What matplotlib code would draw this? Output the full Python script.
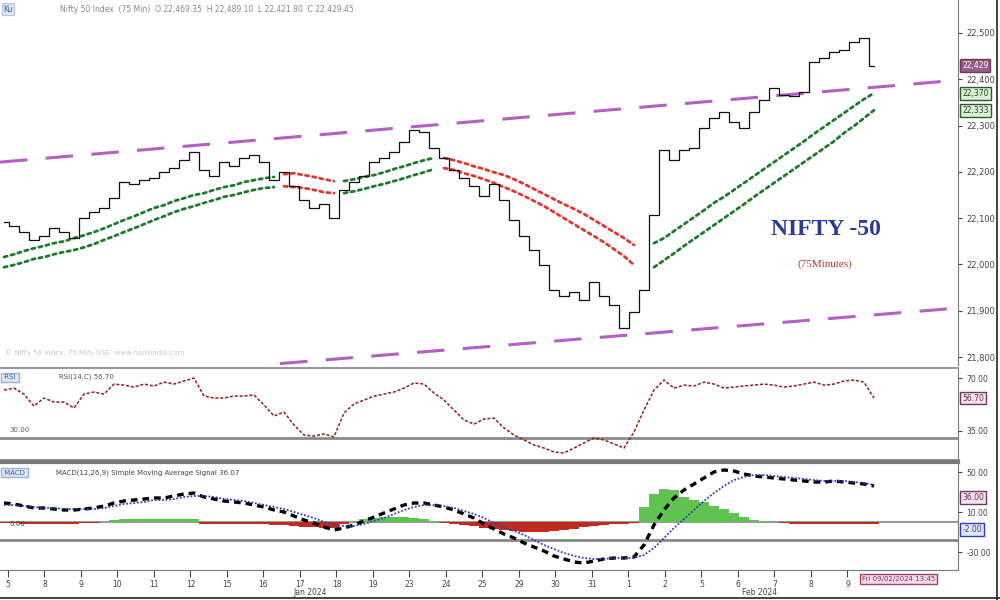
import numpy as np
import matplotlib.pyplot as plt
from matplotlib.lines import Line2D

# 75 minute bars, closing prices
close = [22092, 22083, 22070, 22053, 22061, 22079, 22070, 22057, 22100, 22113,
         22122, 22143, 22178, 22174, 22182, 22187, 22200, 22208, 22226, 22243,
         22204, 22191, 22221, 22213, 22230, 22236, 22221, 22182, 22200, 22169,
         22139, 22122, 22130, 22100, 22161, 22178, 22191, 22221, 22230, 22243,
         22264, 22290, 22286, 22251, 22230, 22204, 22187, 22169, 22148, 22174,
         22139, 22096, 22061, 22031, 21999, 21945, 21932, 21940, 21923, 21962,
         21932, 21912, 21863, 21897, 21945, 22107, 22247, 22226, 22247, 22251,
         22295, 22316, 22329, 22308, 22295, 22329, 22355, 22381, 22366, 22364,
         22372, 22437, 22446, 22459, 22463, 22480, 22489, 22429]

ema_fast = [22016, 22022, 22029, 22035, 22040, 22046, 22050, 22057, 22063, 22070,
            22078, 22087, 22096, 22104, 22113, 22122, 22128, 22137, 22143, 22150,
            22154, 22161, 22167, 22171, 22178, 22182, 22186, 22189, 22195, 22197,
            22193, 22189, 22184, 22180, 22180, 22184, 22189, 22193, 22199, 22206,
            22212, 22219, 22225, 22230, 22230, 22225, 22219, 22212, 22206, 22199,
            22193, 22184, 22174, 22163, 22152, 22141, 22130, 22120, 22109, 22096,
            22083, 22070, 22057, 22042, 22035, 22046, 22057, 22072, 22087, 22102,
            22117, 22133, 22146, 22161, 22176, 22191, 22206, 22221, 22236, 22251,
            22266, 22282, 22297, 22312, 22327, 22342, 22357, 22370]

ema_slow = [21994, 21999, 22005, 22012, 22016, 22022, 22027, 22031, 22037, 22044,
            22053, 22061, 22070, 22078, 22087, 22096, 22104, 22113, 22120, 22126,
            22133, 22139, 22146, 22150, 22156, 22161, 22165, 22167, 22169, 22167,
            22165, 22161, 22156, 22154, 22154, 22158, 22163, 22169, 22174, 22180,
            22186, 22193, 22199, 22206, 22208, 22204, 22197, 22191, 22184, 22176,
            22167, 22158, 22148, 22137, 22126, 22113, 22100, 22087, 22074, 22061,
            22048, 22033, 22018, 21999, 21992, 21994, 22009, 22024, 22040, 22055,
            22070, 22085, 22100, 22115, 22130, 22146, 22161, 22176, 22191, 22206,
            22221, 22236, 22251, 22266, 22284, 22299, 22316, 22333]

# (first bar, last bar, direction) of the moving average ribbon
trend_segments = [(0, 27, "up"), (28, 33, "down"), (34, 43, "up"),
                  (44, 63, "down"), (65, 87, "up")]

# channel lines (bar index, price)
trend_x = [-0.4, 95.4]
upper_trend = [22221, 22398]
lower_x = [27.6, 95.4]
lower_trend = [21786, 21906]

rsi = [62.0, 63.3, 59.3, 51.3, 56.7, 54.0, 54.0, 50.0, 59.3, 60.7,
       59.3, 66.0, 65.3, 64.0, 66.0, 64.7, 67.3, 66.0, 68.0, 70.0,
       58.0, 56.7, 56.7, 58.0, 58.0, 58.7, 52.0, 44.7, 47.3, 38.7,
       32.0, 31.3, 32.7, 30.7, 46.7, 52.7, 55.3, 58.0, 59.3, 60.7,
       63.3, 66.7, 66.0, 60.0, 55.3, 48.7, 42.0, 39.3, 42.7, 43.3,
       36.7, 32.0, 28.7, 25.3, 23.3, 20.7, 20.0, 23.3, 26.7, 30.0,
       28.7, 26.0, 23.3, 34.0, 48.7, 62.0, 68.7, 63.3, 65.3, 64.7,
       67.3, 66.0, 63.3, 64.0, 64.7, 65.3, 66.0, 65.3, 64.0, 64.7,
       66.0, 67.3, 65.3, 66.0, 68.0, 68.7, 67.3, 56.7]

macd = [19, 18, 16, 14, 14, 13, 12, 12, 13, 14,
        16, 19, 21, 22, 23, 24, 24, 26, 28, 29,
        25, 23, 21, 20, 19, 17, 15, 12, 10, 6,
        2, -1, -5, -8, -6, -3, 1, 5, 9, 13,
        17, 19, 19, 17, 15, 12, 8, 4, -2, -7,
        -12, -16, -21, -25, -29, -34, -37, -40, -41, -39,
        -37, -36, -36, -35, -23, -3, 12, 24, 32, 38,
        44, 50, 52, 51, 48, 46, 45, 44, 43, 42,
        41, 40, 40, 41, 40, 39, 38, 36]

signal = [17, 17, 16, 15, 14, 14, 13, 13, 13, 13,
          14, 16, 18, 19, 20, 22, 22, 23, 25, 26,
          26, 25, 23, 22, 21, 19, 17, 15, 13, 10,
          7, 4, 0, -3, -4, -4, -2, 1, 4, 8,
          12, 15, 17, 17, 16, 14, 11, 8, 4, -1,
          -5, -9, -13, -18, -23, -27, -31, -34, -36, -37,
          -37, -36, -36, -36, -33, -26, -16, -6, 3, 12,
          21, 29, 36, 42, 45, 47, 47, 46, 45, 44,
          43, 42, 41, 41, 41, 40, 39, 37]

hist = [-1, -1, -2, -2, -2, -2, -2, -2, -1, -1,
        0, 2, 3, 3, 3, 3, 3, 3, 3, 3,
        -2, -2, -2, -2, -2, -2, -2, -3, -3, -4,
        -5, -5, -6, -6, -2, 1, 3, 4, 5, 5,
        5, 4, 3, 1, -1, -2, -3, -4, -6, -7,
        -8, -9, -10, -10, -10, -9, -8, -7, -5, -4,
        -3, -2, -2, -1, 15, 28, 33, 32, 25, 22,
        20, 16, 13, 9, 5, 2, 1, 0, -1, -2,
        -2, -2, -2, -2, -2, -2, -2, -2]

day_labels = ["5", "8", "9", "10", "11", "12", "15", "16", "17", "18", "19", "23",
              "24", "25", "29", "30", "31", "1", "2", "5", "6", "7", "8", "9"]
month_labels = ["Jan 2024", "Feb 2024"]
month_pos = [30.6, 75.6]

price_ticks = [21800, 21900, 22000, 22100, 22200, 22300, 22400, 22500]

x = np.arange(len(close))
close = np.array(close, dtype=float)
ema_fast = np.array(ema_fast, dtype=float)
ema_slow = np.array(ema_slow, dtype=float)

GREEN = "#1d7a2c"
RED = "#e0362c"
PURPLE = "#b35fc4"
AXC = "#7a7a7a"
TXT = "#444444"

fig = plt.figure(figsize=(10, 6), dpi=100)
ax = fig.add_axes([0.0, 0.3917, 0.958, 0.6083])
ax_rsi = fig.add_axes([0.0, 0.2333, 0.958, 0.1533], sharex=ax)
ax_macd = fig.add_axes([0.0, 0.05, 0.958, 0.18], sharex=ax)

# ---- price panel
ax.plot(trend_x, upper_trend, color=PURPLE, lw=2.2, ls=(0, (9, 6)), zorder=1)
ax.plot(lower_x, lower_trend, color=PURPLE, lw=2.2, ls=(0, (9, 6)), zorder=1)

for start, end, kind in trend_segments:
    seg = slice(start, end + 1)
    col = GREEN if kind == "up" else RED
    for line in (ema_fast, ema_slow):
        ax.plot(x[seg], line[seg], color=col, lw=2.0, ls=(0, (1.2, 1.4)),
                dash_capstyle="round", zorder=2)

ax.step(x, close, where="mid", color="#111111", lw=0.9, zorder=3)

ax.set_xlim(-0.4, 95.4)
ax.set_ylim(21783, 22571)
ax.yaxis.tick_right()
ax.set_yticks(price_ticks)
ax.set_yticklabels([f"{v:,.0f}" for v in price_ticks])
ax.tick_params(axis="y", labelsize=6, colors=TXT, length=3, pad=3)
ax.tick_params(axis="x", bottom=False, labelbottom=False)
for side in ("left", "top", "bottom"):
    ax.spines[side].set_visible(False)
ax.spines["right"].set_color(AXC)

ax.text(0.862, 0.37, "NIFTY -50", transform=ax.transAxes, ha="center", va="center",
        fontsize=17, fontweight="bold", color="#2c3a9e", family="Liberation Serif")
ax.text(0.861, 0.277, "(75Minutes)", transform=ax.transAxes, ha="center", va="center",
        fontsize=8, color="#b03a2e", family="Liberation Serif")
ax.text(0.005, 0.035, "© Nifty 50 Index, 75 Min, NSE  www.hansindia.com", transform=ax.transAxes,
        fontsize=5, color="#c8c8c8", va="center")

ax.annotate(f"{close[-1]:,.0f}", xy=(1.0, close[-1]), xycoords=("axes fraction", "data"),
            xytext=(3, 0), textcoords="offset points", fontsize=5.5, color="white", va="center",
            bbox=dict(boxstyle="square,pad=0.25", fc="#9a5b85", ec="#6b3b5c"))
ax.annotate(f"{ema_fast[-1]:,.0f}", xy=(1.0, ema_fast[-1]), xycoords=("axes fraction", "data"),
            xytext=(3, 0), textcoords="offset points", fontsize=5.5, color="#224422", va="center",
            bbox=dict(boxstyle="square,pad=0.25", fc="#dcefd8", ec="#335533"))
ax.annotate(f"{ema_slow[-1]:,.0f}", xy=(1.0, ema_slow[-1]), xycoords=("axes fraction", "data"),
            xytext=(3, 0), textcoords="offset points", fontsize=5.5, color="#224422", va="center",
            bbox=dict(boxstyle="square,pad=0.25", fc="#dcefd8", ec="#335533"))

# ---- RSI panel
ax_rsi.axhline(30, color="#8a8a8a", lw=2, zorder=0)
ax_rsi.plot(x, rsi, color="#9b1c1c", lw=1.1, ls=(0, (2, 1.2)))
ax_rsi.set_ylim(15.3, 76.7)
ax_rsi.yaxis.tick_right()
ax_rsi.set_yticks([70, 35])
ax_rsi.set_yticklabels(["70.00", "35.00"])
ax_rsi.tick_params(axis="y", labelsize=5.5, colors=TXT, length=3, pad=3)
ax_rsi.tick_params(axis="x", bottom=False, labelbottom=False)
ax_rsi.spines["left"].set_visible(False)
ax_rsi.spines["top"].set_color("#999999")
ax_rsi.spines["top"].set_linewidth(1.5)
ax_rsi.spines["bottom"].set_color("#888888")
ax_rsi.spines["bottom"].set_linewidth(2)
ax_rsi.spines["right"].set_color(AXC)
ax_rsi.text(0.002, 0.9, " RSI ", transform=ax_rsi.transAxes, fontsize=5, color="#3a5fb0",
            va="center", bbox=dict(boxstyle="square,pad=0.2", fc="#dfe6f4", ec="#9fb0d8"))
ax_rsi.text(0.062, 0.9, "RSI(14,C) 56.70", transform=ax_rsi.transAxes, fontsize=5,
            color="#555555", va="center")
ax_rsi.text(0.01, 0.33, "30.00", transform=ax_rsi.transAxes, fontsize=5, color="#555555",
            va="center")
ax_rsi.annotate(f"{rsi[-1]:.2f}", xy=(1.0, rsi[-1]), xycoords=("axes fraction", "data"),
                xytext=(3, 0), textcoords="offset points", fontsize=5.5, color="#6b2b5c",
                va="center", bbox=dict(boxstyle="square,pad=0.25", fc="#f3e4ee", ec="#6b3b5c"))

# ---- MACD panel
hist_colors = ["#5ec44f" if h >= 0 else "#c22a1f" for h in hist]
ax_macd.bar(x, hist, width=1.0, color=hist_colors, zorder=1)
ax_macd.axhline(0, color="#9a9a9a", lw=1.5, zorder=0)
ax_macd.axhline(-18, color="#888888", lw=2, zorder=0)
ax_macd.plot(x, macd, color="black", lw=2.4, ls=(0, (2, 1.5)), zorder=3)
ax_macd.plot(x, signal, color="#2a3dbf", lw=1.3, ls=(0, (1, 1)), zorder=4)
ax_macd.set_ylim(-48, 60)
ax_macd.yaxis.tick_right()
ax_macd.set_yticks([50, 10, -30])
ax_macd.set_yticklabels(["50.00", "10.00", "-30.00"])
ax_macd.tick_params(axis="y", labelsize=5.5, colors=TXT, length=3, pad=3)
ax_macd.spines["left"].set_visible(False)
ax_macd.spines["top"].set_color("#777777")
ax_macd.spines["top"].set_linewidth(3)
ax_macd.spines["bottom"].set_color(AXC)
ax_macd.spines["right"].set_color(AXC)
ax_macd.text(0.002, 0.9, " MACD ", transform=ax_macd.transAxes, fontsize=5, color="#3a5fb0",
             va="center", bbox=dict(boxstyle="square,pad=0.2", fc="#dfe6f4", ec="#9fb0d8"))
ax_macd.text(0.058, 0.9, "MACD(12,26,9) Simple Moving Average Signal 36.07", transform=ax_macd.transAxes,
             fontsize=5, color="#444444", va="center")
ax_macd.text(0.01, 0.43, "0.00", transform=ax_macd.transAxes, fontsize=5, color="#444444",
             va="center")
ax_macd.annotate(f"{macd[-1]:.2f}", xy=(1.0, macd[-1]), xycoords=("axes fraction", "data"),
                 xytext=(3, -8), textcoords="offset points", fontsize=5.5, color="#6b2b5c",
                 va="center", bbox=dict(boxstyle="square,pad=0.25", fc="#f3e4ee", ec="#6b3b5c"))
ax_macd.annotate(f"{hist[-1]:.2f}", xy=(1.0, hist[-1]), xycoords=("axes fraction", "data"),
                 xytext=(3, -4), textcoords="offset points", fontsize=5.5, color="#2a3dbf",
                 va="center", bbox=dict(boxstyle="square,pad=0.25", fc="#e6e8f6", ec="#2a3dbf"))

tick_pos = 0.4 + 3.65 * np.arange(len(day_labels))
ax_macd.set_xticks(tick_pos)
ax_macd.set_xticklabels(day_labels)
ax_macd.tick_params(axis="x", labelsize=5.5, colors=TXT, length=5, pad=2)
for pos, lab in zip(month_pos, month_labels):
    ax_macd.text(pos, -0.21, lab, transform=ax_macd.get_xaxis_transform(), ha="center",
                 va="center", fontsize=5.5, color=TXT)
ax_macd.set_xlim(-0.4, 95.4)

# ---- header and frame
fig.text(0.003, 0.985, "Ku", fontsize=5.5, color="#3a5fb0", va="center",
         bbox=dict(boxstyle="square,pad=0.15", fc="#dfe6f4", ec="#c0c8e0"))
fig.text(0.06, 0.985, "Nifty 50 Index  (75 Min)  O 22,469.35  H 22,489.10  L 22,421.80  C 22,429.45",
         fontsize=5.5, color="#8a8a8a", va="center")
fig.text(0.862, 0.035, "Fri 09/02/2024 13:45", fontsize=5, color="#8a3060", va="center",
         bbox=dict(boxstyle="square,pad=0.3", fc="#f4dce8", ec="#a04070"))
fig.add_artist(Line2D([0.997, 0.997], [0.0, 1.0], color="#222222", lw=1.2))
fig.add_artist(Line2D([0.0, 1.0], [0.003, 0.003], color="#222222", lw=1.2))

fig.savefig("out.png", dpi=100, facecolor="white")
